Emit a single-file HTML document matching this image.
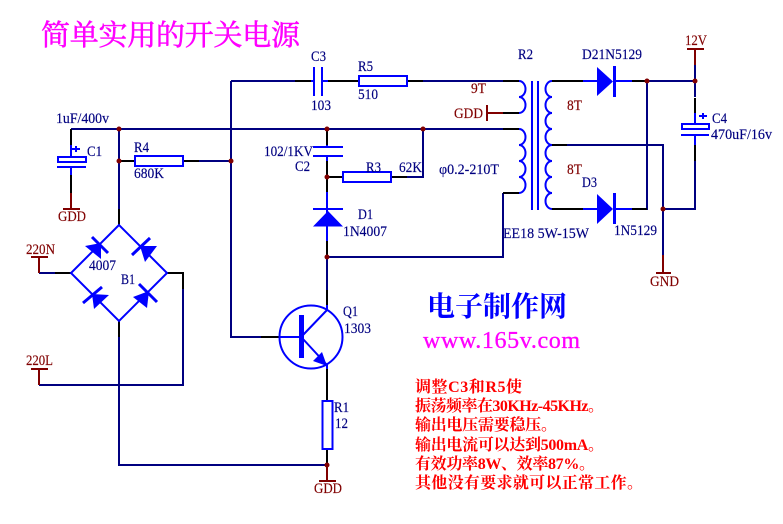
<!DOCTYPE html>
<html><head><meta charset="utf-8"><style>
html,body{margin:0;padding:0;background:#fff}
svg{display:block}
text{font-family:"Liberation Serif","Noto Serif CJK SC",serif;font-size:14.5px}
.n text,.r text{stroke-width:.15px}
.n{fill:#000080;stroke:#000080}.r{fill:#800000;stroke:#800000}
.wn{stroke:#000080;stroke-width:2;fill:none}
.wk{stroke:#000;stroke-width:2;fill:none}
.wb{stroke:#0000ff;stroke-width:2;fill:none}
.wr{stroke:#800000;stroke-width:2;fill:none}
</style></head><body>
<svg width="783" height="524" viewBox="0 0 783 524" xmlns="http://www.w3.org/2000/svg">
<g class="wn" shape-rendering="crispEdges">
<path d="M71 129H503M119 129V209M199 161H231M231 81V337H261M231 81H295M423 81H503M407 177H423V129"/>
<path d="M503 193V257H327M327 241V290M183 289V385H39M119 337V465H327M39 273H55"/>
<path d="M647 81V209H632M632 81H695V97M695 161V209H663M567 145H663V255M695 65V97"/>
</g>
<g class="wk" shape-rendering="crispEdges">
<path d="M71 129V145M71 175V193M119 209V225M119 161H135M183 161H199M295 81H311M328 81H359M407 81H423M503 81H519"/>
<path d="M503 113H519M503 129H519M503 193H519M327 129V145M327 161V192M327 241V257M327 290V305M327 177H343M391 177H407"/>
<path d="M552 81H583M552 209H583M632 81H647M632 209H647M552 145H567M695 98V113M695 145V161M55 273H71M167 273H183V289"/>
<path d="M119 321V337M261 337H279M327 369V401M327 449V465"/>
</g>
<g class="wr" shape-rendering="crispEdges">
<path d="M71 193V209M63 209H80M487 113H503M487 105V121M695 49V65M687 49H704M663 255V272M656 273H671"/>
<path d="M39 257V273M31 257H48M39 369V385M31 369H48M327 465V481M319 481H336"/>
</g>
<g class="wb" shape-rendering="crispEdges">
<path d="M71 145V156M71 167V175M57 167H86M311 81H314M322 81H328M327 145V147M327 156V161M313 147H343M313 156H343"/>
<path d="M314 67V96M322 67V96M583 81H597M583 209H597M613 81H632M613 209H632M695 113V124M695 135V145M681 135H709"/>
<path d="M327 192V241M327 305V311M327 364V369M313 209H343M279 337H301M532 81V210M538 81V210"/>
<rect x="58" y="157" width="28" height="5"/>
<rect x="135" y="156" width="48" height="10"/>
<rect x="359" y="76" width="48" height="10"/>
<rect x="343" y="172" width="48" height="10"/>
<rect x="682" y="124" width="27" height="5"/>
<rect x="322.500" y="401" width="10" height="48"/>
</g>
<path d="M519 81a6.500 8 0 0 1 0 16a6.500 8 0 0 1 0 16M519 129a6.500 8 0 0 1 0 16a6.500 8 0 0 1 0 16a6.500 8 0 0 1 0 16a6.500 8 0 0 1 0 16" class="wb"/>
<path d="M552 81a6.500 8 0 0 0 0 16a6.500 8 0 0 0 0 16a6.500 8 0 0 0 0 16a6.500 8 0 0 0 0 16a6.500 8 0 0 0 0 16a6.500 8 0 0 0 0 16a6.500 8 0 0 0 0 16a6.500 8 0 0 0 0 16" class="wb"/>
<!-- bridge -->
<path d="M119 225L71 273L119 321L167 273Z" class="wb"/>
<g fill="#0000ff" stroke="none">
<path d="M101 243L85 246L101 259Z"/><path d="M140 246L157 246L145 262Z"/>
<path d="M92 294L109 295L94 309Z"/><path d="M149 291L133 297L147 308Z"/>
<path d="M597 67L613 81.500L597 96Z"/><path d="M597 194L613 209L597 224Z"/>
<rect x="613" y="66" width="3" height="31"/><rect x="613" y="193" width="3" height="31"/>
<path d="M328 211L343 226.500H313Z"/>
<rect x="299" y="315" width="5" height="43"/>
<path d="M327 366L313 361L322 352Z"/>
<path d="M75 146h2v2h3v2h-3v2h-2v-2h-3v-2h3zM702 113h2v2h3v2h-3v2h-2v-2h-3v-2h3z"/>
</g>
<g stroke="#0000ff" stroke-width="3" fill="none">
<path d="M92 237L108 253M150 238L132 255M83 303L102 287M139 284L157 302"/>
</g>
<circle cx="311" cy="337" r="31.500" fill="none" stroke="#0000ff" stroke-width="2"/>
<path d="M303 335L327 310M303 339L327 365" fill="none" stroke="#0000ff" stroke-width="2"/>
<g fill="#800000">
<circle cx="119" cy="129" r="2.500"/><circle cx="119" cy="161" r="2.500"/><circle cx="231" cy="161" r="2.500"/>
<circle cx="327" cy="129" r="2.500"/><circle cx="423" cy="129" r="2.500"/><circle cx="327" cy="177" r="2.500"/>
<circle cx="327" cy="257" r="2.500"/><circle cx="647" cy="81" r="2.500"/><circle cx="695" cy="81" r="2.500"/>
<circle cx="663" cy="209" r="2.500"/><circle cx="327" cy="465" r="2.500"/>
</g>
<!-- labels -->
<g class="n">
<text lengthAdjust="spacingAndGlyphs" x="56" y="123" textLength="53">1uF/400v</text>
<text lengthAdjust="spacingAndGlyphs" x="87" y="156" textLength="15">C1</text>
<text lengthAdjust="spacingAndGlyphs" x="134" y="152" textLength="15">R4</text>
<text lengthAdjust="spacingAndGlyphs" x="134" y="178" textLength="30">680K</text>
<text lengthAdjust="spacingAndGlyphs" x="311" y="61" textLength="15">C3</text>
<text lengthAdjust="spacingAndGlyphs" x="311" y="110" textLength="20">103</text>
<text lengthAdjust="spacingAndGlyphs" x="358" y="71" textLength="15">R5</text>
<text lengthAdjust="spacingAndGlyphs" x="358" y="99" textLength="20">510</text>
<text lengthAdjust="spacingAndGlyphs" x="264" y="156" textLength="49">102/1KV</text>
<text lengthAdjust="spacingAndGlyphs" x="295" y="171" textLength="15">C2</text>
<text lengthAdjust="spacingAndGlyphs" x="366" y="172" textLength="15">R3</text>
<text lengthAdjust="spacingAndGlyphs" x="399" y="172" textLength="23">62K</text>
<text lengthAdjust="spacingAndGlyphs" x="439" y="174" textLength="60">φ0.2-210T</text>
<text lengthAdjust="spacingAndGlyphs" x="518" y="59" textLength="15">R2</text>
<text lengthAdjust="spacingAndGlyphs" x="582" y="59" textLength="60">D21N5129</text>
<text lengthAdjust="spacingAndGlyphs" x="582" y="187" textLength="15">D3</text>
<text lengthAdjust="spacingAndGlyphs" x="614" y="235" textLength="43">1N5129</text>
<text lengthAdjust="spacingAndGlyphs" x="503" y="238" textLength="86">EE18 5W-15W</text>
<text lengthAdjust="spacingAndGlyphs" x="712" y="123" textLength="15">C4</text>
<text lengthAdjust="spacingAndGlyphs" x="711" y="139" textLength="61">470uF/16v</text>
<text lengthAdjust="spacingAndGlyphs" x="358" y="219" textLength="15">D1</text>
<text lengthAdjust="spacingAndGlyphs" x="343" y="236" textLength="44">1N4007</text>
<text lengthAdjust="spacingAndGlyphs" x="343" y="316" textLength="15">Q1</text>
<text lengthAdjust="spacingAndGlyphs" x="344" y="333" textLength="27">1303</text>
<text lengthAdjust="spacingAndGlyphs" x="89" y="270" textLength="27">4007</text>
<text lengthAdjust="spacingAndGlyphs" x="121" y="284" textLength="14">B1</text>
<text lengthAdjust="spacingAndGlyphs" x="334" y="412" textLength="15">R1</text>
<text lengthAdjust="spacingAndGlyphs" x="335" y="428" textLength="13">12</text>
</g>
<g class="r">
<text lengthAdjust="spacingAndGlyphs" x="471" y="93" textLength="15">9T</text>
<text lengthAdjust="spacingAndGlyphs" x="454" y="118" textLength="29">GDD</text>
<text lengthAdjust="spacingAndGlyphs" x="567" y="110" textLength="15">8T</text>
<text lengthAdjust="spacingAndGlyphs" x="567" y="174" textLength="15">8T</text>
<text lengthAdjust="spacingAndGlyphs" x="650" y="286" textLength="29">GND</text>
<text lengthAdjust="spacingAndGlyphs" x="685" y="45" textLength="22">12V</text>
<text lengthAdjust="spacingAndGlyphs" x="26" y="254" textLength="29">220N</text>
<text lengthAdjust="spacingAndGlyphs" x="26" y="365" textLength="27">220L</text>
<text lengthAdjust="spacingAndGlyphs" x="58" y="221" textLength="28">GDD</text>
<text lengthAdjust="spacingAndGlyphs" x="314" y="493" textLength="28">GDD</text>
</g>
<text x="41" y="45" textLength="259" style="font-size:29px;stroke:#ff00ff;stroke-width:.5px" fill="#ff00ff">简单实用的开关电源</text>
<text x="427" y="316" textLength="140" style="font-size:28px;font-weight:bold" fill="#0000ff">电子制作网</text>
<text x="423" y="348" textLength="157" style="font-size:24px;stroke:#ff00ff;stroke-width:.3px" fill="#ff00ff">www.165v.com</text>
<g fill="#ff0000" style="font-weight:bold">
<text x="415" y="392" textLength="107" style="font-size:16px">调整C3和R5使</text>
<text x="415" y="411" textLength="189" style="font-size:16px">振荡频率在30KHz-45KHz。</text>
<text x="415" y="430" textLength="142" style="font-size:16px">输出电压需要稳压。</text>
<text x="415" y="450" textLength="189" style="font-size:16px">输出电流可以达到500mA。</text>
<text x="415" y="469" textLength="180" style="font-size:16px">有效功率8W、效率87%。</text>
<text x="415" y="488" textLength="228" style="font-size:16px">其他没有要求就可以正常工作。</text>
</g>
</svg>
</body></html>
